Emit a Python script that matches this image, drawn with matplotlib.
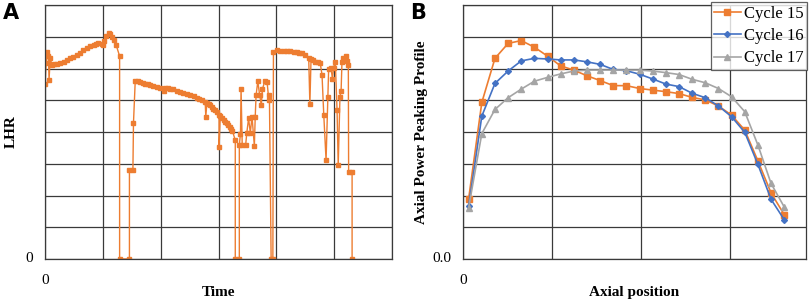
import matplotlib
matplotlib.use("Agg")
import matplotlib.pyplot as plt
from matplotlib.ticker import MultipleLocator, FixedLocator

# ---------------- Panel A data (time in grid units, LHR in grid units) ----------------
time_a = [0.00, 0.02, 0.04, 0.06, 0.07, 0.09, 0.12, 0.15, 0.20, 0.26, 0.32, 0.375, 0.43, 0.49, 0.55,
          0.61, 0.66, 0.72, 0.78, 0.84, 0.88, 0.92, 0.98, 1.01, 1.02, 1.06, 1.10, 1.125, 1.15, 1.19,
          1.23, 1.29, 1.29, 1.46, 1.46, 1.52, 1.53, 1.56, 1.60, 1.645, 1.69, 1.73, 1.78, 1.82, 1.87,
          1.93, 1.99, 2.05, 2.08, 2.12, 2.16, 2.22, 2.28, 2.33, 2.39, 2.45, 2.51, 2.57, 2.63, 2.67,
          2.71, 2.77, 2.78, 2.80, 2.83, 2.86, 2.89, 2.91, 2.94, 2.97, 3.01, 3.01, 3.03, 3.06, 3.09,
          3.12, 3.14, 3.17, 3.20, 3.22, 3.24, 3.29, 3.29, 3.36, 3.36, 3.38, 3.39, 3.41, 3.47, 3.49,
          3.52, 3.55, 3.58, 3.62, 3.635, 3.65, 3.68, 3.71, 3.74, 3.76, 3.80, 3.84, 3.87, 3.88, 3.91,
          3.94, 3.95, 4.01, 4.07, 4.13, 4.19, 4.24, 4.30, 4.36, 4.40, 4.44, 4.50, 4.56, 4.58, 4.60,
          4.64, 4.67, 4.72, 4.76, 4.79, 4.82, 4.86, 4.89, 4.905, 4.945, 4.97, 4.99, 5.02, 5.05, 5.07,
          5.10, 5.12, 5.135, 5.16, 5.20, 5.23, 5.245, 5.25, 5.31, 5.31]
lhr_a = [5.51, 6.16, 6.53, 6.40, 5.64, 6.32, 6.12, 6.14, 6.15, 6.18, 6.22, 6.27, 6.32, 6.37, 6.44,
         6.50, 6.57, 6.64, 6.70, 6.74, 6.77, 6.79, 6.77, 6.74, 6.88, 7.02, 7.12, 7.10, 7.00, 6.90,
         6.74, 6.39, 0.00, 0.00, 2.80, 2.80, 4.29, 5.60, 5.62, 5.58, 5.55, 5.52, 5.50, 5.47, 5.45,
         5.42, 5.38, 5.30, 5.40, 5.39, 5.37, 5.34, 5.30, 5.27, 5.23, 5.19, 5.15, 5.12, 5.08, 5.04,
         5.00, 4.95, 4.48, 4.92, 4.88, 4.84, 4.79, 4.74, 4.69, 4.64, 4.55, 3.53, 4.50, 4.44, 4.38,
         4.33, 4.27, 4.21, 4.15, 4.10, 4.04, 3.74, 0.00, 0.00, 3.59, 3.95, 5.37, 3.60, 3.60, 3.98,
         4.43, 3.98, 4.48, 3.56, 4.48, 5.16, 5.60, 5.18, 4.85, 5.35, 5.60, 5.58, 5.00, 5.18, 0.00,
         0.00, 6.53, 6.58, 6.56, 6.55, 6.55, 6.54, 6.53, 6.52, 6.50, 6.48, 6.42, 6.32, 4.87, 6.30,
         6.26, 6.22, 6.19, 6.16, 5.80, 4.55, 3.11, 5.11, 6.00, 6.02, 5.68, 6.02, 6.20, 4.69, 2.95,
         5.11, 5.30, 6.21, 6.32, 6.40, 6.25, 6.10, 2.74, 2.74, 0.00]

# ---------------- Panel B data ----------------
axial_node = list(range(1, 26))
cycle15 = [1.90, 4.93, 6.32, 6.79, 6.88, 6.67, 6.39, 6.08, 5.95, 5.77, 5.62, 5.46, 5.46, 5.37, 5.32,
           5.27, 5.21, 5.09, 5.01, 4.82, 4.53, 4.06, 3.09, 2.08, 1.40]
cycle16 = [1.67, 4.50, 5.53, 5.92, 6.24, 6.32, 6.30, 6.27, 6.27, 6.21, 6.13, 5.97, 5.93, 5.82, 5.67,
           5.51, 5.43, 5.22, 5.08, 4.82, 4.48, 3.99, 2.98, 1.88, 1.24]
cycle17 = [1.62, 3.95, 4.71, 5.08, 5.35, 5.60, 5.72, 5.83, 5.92, 5.95, 5.95, 5.95, 5.95, 5.95,
           5.92, 5.87, 5.81, 5.66, 5.55, 5.37, 5.11, 4.64, 3.59, 2.38, 1.64]
series_labels = ["Cycle 15", "Cycle 16", "Cycle 17"]

ORANGE = "#ED7D31"
BLUE = "#4472C4"
GRAY = "#A5A5A5"
GRID = "#3a3a3a"

plt.rcParams["font.family"] = ["Liberation Serif", "DejaVu Serif"]

fig = plt.figure(figsize=(8.09, 3.02), dpi=100)
axA = fig.add_axes([45 / 809, 43 / 302, 347 / 809, 254 / 302])
axB = fig.add_axes([463 / 809, 43 / 302, 343 / 809, 254 / 302])


def style(ax):
    ax.grid(True, color=GRID, lw=0.9)
    ax.set_axisbelow(True)
    for s in ax.spines.values():
        s.set_color(GRID)
        s.set_linewidth(0.9)
    ax.tick_params(length=0, labelsize=11)


# Panel A
axA.plot(time_a, lhr_a, color=ORANGE, lw=1.0, marker="s", ms=3.2, mec=ORANGE, mfc=ORANGE)
axA.set_xlim(0, 6)
axA.set_ylim(0, 8)
axA.xaxis.set_major_locator(MultipleLocator(1))
axA.yaxis.set_major_locator(MultipleLocator(1))
axA.set_xticklabels([])
axA.set_yticklabels([])
style(axA)
axA.text(-0.035, 0, "0", transform=axA.get_yaxis_transform(), ha="right", va="center", fontsize=11)
axA.text(0, -0.06, "0", transform=axA.get_xaxis_transform(), ha="center", va="top", fontsize=11)
axA.set_xlabel("Time", fontsize=11, fontweight="bold", labelpad=16)
axA.set_ylabel("LHR", fontsize=11, fontweight="bold", labelpad=16)
fig.text(3 / 809, 1 - 13 / 302, "A", fontsize=15, fontweight="bold", family="DejaVu Sans",
         ha="left", va="center")

# Panel B
first_offset = 0.431
grid_step = 6.77
x_left = axial_node[0] - first_offset
axB.plot(axial_node, cycle15, color=ORANGE, lw=1.2, marker="s", ms=4, label=series_labels[0])
axB.plot(axial_node, cycle16, color=BLUE, lw=1.2, marker="D", ms=3, label=series_labels[1])
axB.plot(axial_node, cycle17, color=GRAY, lw=1.2, marker="^", ms=4, label=series_labels[2])
axB.set_xlim(x_left, x_left + 26.09)
axB.set_ylim(0, 8)
axB.xaxis.set_major_locator(FixedLocator([x_left + k * grid_step for k in range(4)]))
axB.yaxis.set_major_locator(MultipleLocator(1))
axB.set_xticklabels([])
axB.set_yticklabels([])
style(axB)
axB.text(-0.035, 0, "0.0", transform=axB.get_yaxis_transform(), ha="right", va="center", fontsize=11)
axB.text(x_left, -0.06, "0", transform=axB.get_xaxis_transform(), ha="center", va="top", fontsize=11)
axB.set_xlabel("Axial position", fontsize=11, fontweight="bold", labelpad=16)
axB.set_ylabel("Axial Power Peaking Profile", fontsize=11, fontweight="bold", labelpad=22)
fig.text(410 / 809, 1 - 13 / 302, "B", fontsize=15, fontweight="bold", family="DejaVu Sans",
         ha="left", va="center")
leg = axB.legend(loc="upper right", fontsize=12, frameon=True, fancybox=False, borderpad=0.2,
                 handlelength=1.6, handletextpad=0.2, labelspacing=0.38, borderaxespad=0.0,
                 bbox_to_anchor=(1.003, 1.01))
leg.get_frame().set_edgecolor(GRID)
leg.get_frame().set_linewidth(0.9)

fig.savefig("out.png", dpi=100)
